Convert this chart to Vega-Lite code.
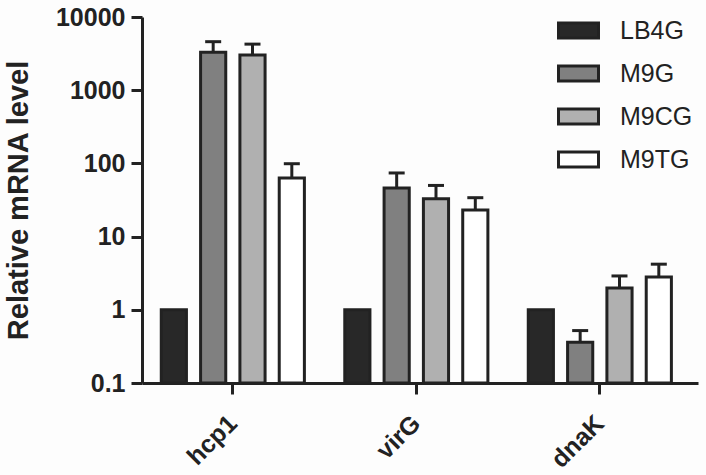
{
  "$schema": "https://vega.github.io/schema/vega-lite/v6.json",
  "width": 556,
  "height": 366,
  "autosize": {"type": "none"},
  "padding": {"left": 142, "top": 17, "right": 8, "bottom": 92},
  "background": "#fdfdfd",
  "config": {
    "view": {"stroke": null},
    "font": "Liberation Sans",
    "axis": {
      "domainColor": "#222222",
      "domainWidth": 3,
      "tickColor": "#222222",
      "tickWidth": 3,
      "tickSize": 11,
      "labelColor": "#222222",
      "labelFont": "Liberation Sans",
      "labelFontWeight": "bold",
      "labelFontSize": 25,
      "titleColor": "#222222",
      "titleFont": "Liberation Sans",
      "titleFontWeight": "bold",
      "titleFontSize": 29,
      "grid": false
    },
    "legend": {
      "labelFont": "Liberation Sans",
      "labelFontSize": 25,
      "labelColor": "#222222",
      "padding": 0
    }
  },
  "data": {
    "values": [
      {"gene": "hcp1", "condition": "LB4G", "value": 1, "upper": null},
      {"gene": "hcp1", "condition": "M9G", "value": 3300, "upper": 4600},
      {"gene": "hcp1", "condition": "M9CG", "value": 3030, "upper": 4260},
      {"gene": "hcp1", "condition": "M9TG", "value": 63, "upper": 99},
      {"gene": "virG", "condition": "LB4G", "value": 1, "upper": null},
      {"gene": "virG", "condition": "M9G", "value": 46, "upper": 74},
      {"gene": "virG", "condition": "M9CG", "value": 33, "upper": 50},
      {"gene": "virG", "condition": "M9TG", "value": 23, "upper": 34},
      {"gene": "dnaK", "condition": "LB4G", "value": 1, "upper": null},
      {"gene": "dnaK", "condition": "M9G", "value": 0.36, "upper": 0.52},
      {"gene": "dnaK", "condition": "M9CG", "value": 1.98, "upper": 2.9},
      {"gene": "dnaK", "condition": "M9TG", "value": 2.8, "upper": 4.2}
    ]
  },
  "encoding": {
    "x": {
      "field": "gene",
      "type": "nominal",
      "sort": ["hcp1", "virG", "dnaK"],
      "scale": {"paddingInner": 0.22, "paddingOuter": 0.125, "align": 0.42},
      "axis": {"title": null, "labelAngle": -45, "labelBaseline": "middle", "labelAlign": "right", "labelPadding": 25}
    },
    "xOffset": {
      "field": "condition",
      "type": "nominal",
      "sort": ["LB4G", "M9G", "M9CG", "M9TG"],
      "scale": {"paddingInner": 0.36, "paddingOuter": 0}
    }
  },
  "layer": [
    {
      "mark": {"type": "bar", "stroke": "#222222", "strokeWidth": 3},
      "encoding": {
        "y": {
          "field": "value",
          "type": "quantitative",
          "scale": {"type": "log", "domain": [0.1, 10000], "nice": false},
          "axis": {
            "title": "Relative mRNA level",
            "values": [0.1, 1, 10, 100, 1000, 10000],
            "format": ".1~f",
            "labelPadding": 6,
            "titlePadding": 22
          }
        },
        "y2": {"datum": 0.1},
        "fill": {
          "field": "condition",
          "type": "nominal",
          "sort": ["LB4G", "M9G", "M9CG", "M9TG"],
          "scale": {
            "domain": ["LB4G", "M9G", "M9CG", "M9TG"],
            "range": ["#282828", "#808080", "#b0b0b0", "#ffffff"]
          },
          "legend": {
            "title": null,
            "orient": "none",
            "legendX": 415,
            "legendY": -8,
            "symbolType": "M-1,-0.375H1V0.375H-1Z",
            "symbolSize": 1600,
            "symbolStrokeColor": "#222222",
            "symbolStrokeWidth": 3,
            "symbolOpacity": 1,
            "labelOffset": 20,
            "rowPadding": 8
          }
        }
      }
    },
    {
      "transform": [{"filter": "datum.upper != null"}],
      "mark": {"type": "rule", "color": "#222222", "strokeWidth": 3},
      "encoding": {
        "y": {"field": "value", "type": "quantitative"},
        "y2": {"field": "upper"}
      }
    },
    {
      "transform": [{"filter": "datum.upper != null"}],
      "mark": {"type": "tick", "color": "#222222", "thickness": 3, "size": 16, "orient": "horizontal", "opacity": 1},
      "encoding": {
        "y": {"field": "upper", "type": "quantitative"}
      }
    }
  ]
}
